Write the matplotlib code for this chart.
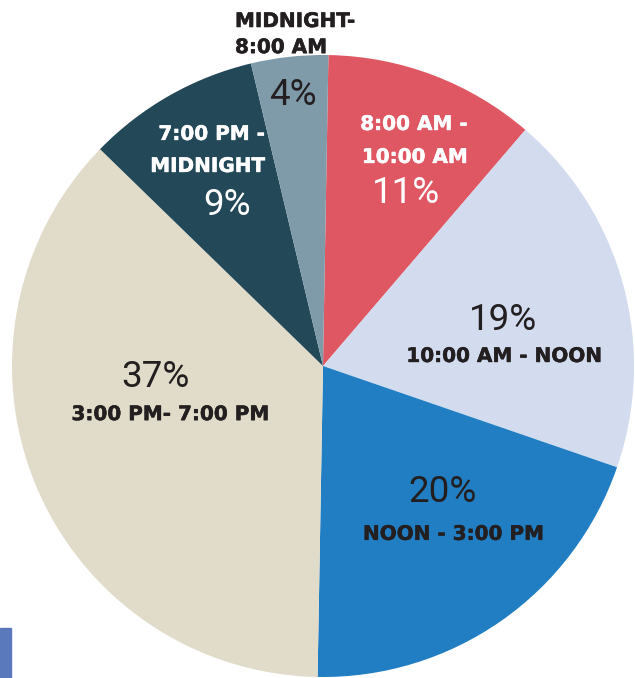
import matplotlib.pyplot as plt
import matplotlib.patheffects as pe
from matplotlib.patches import Rectangle

# share of items by time of day, clockwise from 12 o'clock
shares = [11, 19, 20, 37, 9, 4]
slots = ["8:00 AM -\n10:00 AM", "10:00 AM - NOON", "NOON - 3:00 PM",
         "3:00 PM- 7:00 PM", "7:00 PM -\nMIDNIGHT", "MIDNIGHT-\n8:00 AM"]
colors = ["#DF5763", "#D2DCEE", "#217EC3", "#E0DCC9", "#234858", "#7F9BAA"]
txtcol = ["white", "#231F20", "#231F20", "#231F20", "white", "#231F20"]

fig = plt.figure(figsize=(6.35, 6.78), dpi=100)
ax = fig.add_axes([12/635, 1/678, 622/635, 622/678])
ax.pie(shares, colors=colors, startangle=89, counterclock=False, radius=1,
       wedgeprops=dict(linewidth=0))
ax.set_xlim(-1, 1)
ax.set_ylim(-1, 1)
ax.set_aspect("equal")
ax.axis("off")

pct = dict(family="Roboto", fontweight="normal", fontsize=26.5, ha="center", va="baseline")
lab = dict(family="DejaVu Sans", fontweight="bold", fontsize=14.4, va="baseline")

# label placement (baseline positions in pie units)
pct_pos = [(0.267, 0.524), (0.579, 0.116), (0.383, -0.437), (-0.540, -0.068), (-0.309, 0.486), (-0.096, 0.839)]
lab_pos = [[(0.293, 0.759), (0.296, 0.653)],
           [(0.584, 0.013)],
           [(0.421, -0.559)],
           [(-0.489, -0.174)],
           [(-0.357, 0.727), (-0.370, 0.624)],
           [(-0.283, 1.090), (-0.283, 1.006)]]

for i, s in enumerate(shares):
    ax.text(*pct_pos[i], "{}%".format(s), color=txtcol[i], **pct)
    for line, (x, y) in zip(slots[i].split("\n"), lab_pos[i]):
        t = ax.text(x, y, line, color=txtcol[i], ha="left" if i == 5 else "center", **lab)
        t.set_path_effects([pe.withStroke(linewidth=0.35, foreground=txtcol[i])])

# small blue scrap at lower left edge of the original scan
fig.patches.append(Rectangle((0, 0), 11/635, 50/678, transform=fig.transFigure,
                             color="#5A78BC", zorder=0))

fig.savefig("out.png", dpi=100)
